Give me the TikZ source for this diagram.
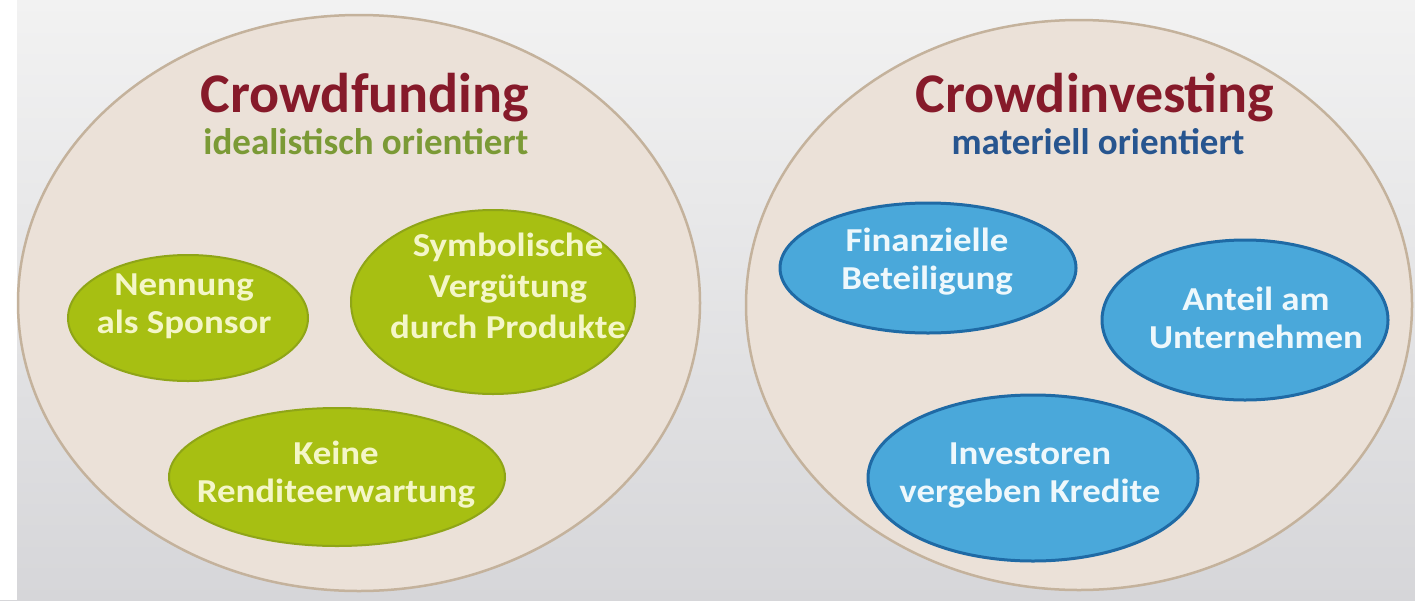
\documentclass[tikz,border=0pt]{standalone}
\usepackage{fontspec}
\setmainfont{Carlito}
\newfontfamily\widefont{Carlito}[FakeStretch=1.1]
\usetikzlibrary{shapes.geometric}
\definecolor{bgtop}{HTML}{F2F2F2}
\definecolor{bgbot}{HTML}{D6D6D9}
\definecolor{circfill}{HTML}{EBE1D8}
\definecolor{circline}{HTML}{C4B29C}
\definecolor{greenfill}{HTML}{A7BF12}
\definecolor{greenline}{HTML}{8FA517}
\definecolor{greentext}{HTML}{F4F6C8}
\definecolor{bluefill}{HTML}{4AA8DA}
\definecolor{blueline}{HTML}{1F6AA5}
\definecolor{bluetext}{HTML}{EEF8FC}
\definecolor{titlered}{HTML}{861A2A}
\definecolor{subgreen}{HTML}{7B9A36}
\definecolor{subblue}{HTML}{27558F}
\tikzset{
  bigcirc/.style={ellipse, draw=circline, line width=2.5pt, fill=circfill, inner sep=0pt},
  greenbub/.style={ellipse, draw=greenline, line width=2pt, fill=greenfill, inner sep=0pt},
  bluebub/.style={ellipse, draw=blueline, line width=3pt, fill=bluefill, inner sep=0pt},
  bubtext/.style={inner sep=0pt, align=center, font=\widefont\fontsize{33.5}{38}\selectfont\bfseries},
  greentxt/.style={bubtext, text=greentext},
  bluetxt/.style={bubtext, text=bluetext},
  titletext/.style={text=titlered, font=\fontsize{56}{64}\selectfont\bfseries, inner sep=0pt},
  subtext/.style={font=\fontsize{37}{44}\selectfont\bfseries, inner sep=0pt}
}
\begin{document}
\begin{tikzpicture}[x=1pt,y=-1pt]
\useasboundingbox (0,0) rectangle (1415,600);
\shade[top color=bgtop, bottom color=bgbot] (0,0) rectangle (1415,600);
\fill[white] (0,0) rectangle (17,600);
% big circles
\node[bigcirc, minimum width=682pt, minimum height=576pt] (cf) at (359,303) {};
\node[bigcirc, minimum width=666pt, minimum height=570pt] (ci) at (1079,305) {};
% titles
\node[titletext, anchor=base] (cft) at (365,112) {Crowdfunding};
\node[subtext, text=subgreen, anchor=base] (cfs) at (366,154) {idealistisch orientiert};
\node[titletext, anchor=base] (cit) at (1095,112) {Crowdinvesting};
\node[subtext, text=subblue, anchor=base] (cis) at (1098,154) {materiell orientiert};
% green bubbles
\node[greenbub, minimum width=240pt, minimum height=126pt] (g1) at (188,318) {};
\node[greentxt] (g1t) at (184,306) {Nennung\\als Sponsor};
\node[greenbub, minimum width=284pt, minimum height=184pt] (g2) at (493,302) {};
\node[greentxt, font=\widefont\fontsize{33.5}{41}\selectfont\bfseries] (g2t) at (508,286) {Symbolische\\Vergütung\\durch Produkte};
\node[greenbub, minimum width=336pt, minimum height=138pt] (g3) at (337,477) {};
\node[greentxt] (g3t) at (336,475) {Keine\\Renditeerwartung};
% blue bubbles
\node[bluebub, minimum width=296pt, minimum height=130pt] (b1) at (928,268) {};
\node[bluetxt] (b1t) at (927,262) {Finanzielle\\Beteiligung};
\node[bluebub, minimum width=286pt, minimum height=160pt] (b2) at (1245,320) {};
\node[bluetxt] (b2t) at (1256,318) {Anteil am\\Unternehmen};
\node[bluebub, minimum width=330pt, minimum height=166pt] (b3) at (1033,478) {};
\node[bluetxt] (b3t) at (1030,475) {Investoren\\vergeben Kredite};
\end{tikzpicture}
\end{document}
